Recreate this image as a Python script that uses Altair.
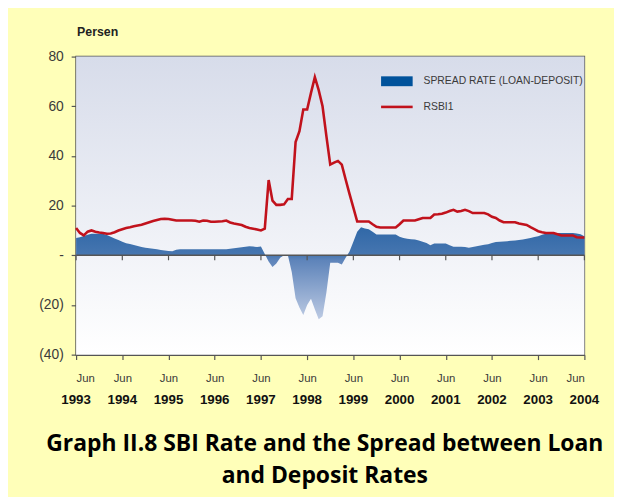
import altair as alt
import pandas as pd

# ---- data (monthly, starting Jun 1993) ----
rsbi = [11, 9, 8, 9.5, 10, 9.5, 9.2, 9, 8.7, 8.8, 9.3, 10,
        10.5, 11, 11.3, 11.7, 12, 12.3, 12.8, 13.3, 13.8, 14.2, 14.6, 14.7,
        14.6, 14.3, 14, 14, 14, 14, 14, 13.9, 13.5, 14, 13.9, 13.5,
        13.5, 13.6, 13.7, 14, 13.2, 12.8, 12.5, 12.2, 11.5, 11, 10.7, 10.4,
        10, 10.7, 30.3, 22, 20.3, 20.3, 20.5, 22.7, 22.7, 45.6, 50, 58.7,
        58.7, 65.4, 71.7, 66.5, 60, 48, 36.5, 37.3, 38, 36.5, 30.5, 24.7,
        19.2, 13.6, 13.6, 13.6, 13.6, 12.5, 11.5, 11.2, 11.2, 11.2, 11.2, 11.2,
        12.5, 14, 14, 14, 14, 14.5, 15, 15, 15, 16.4, 16.5, 16.7,
        17.2, 17.8, 18.3, 17.6, 17.8, 18.3, 17.8, 17, 17, 17, 17, 16.5,
        15.5, 15, 14, 13.3, 13.3, 13.3, 13.3, 12.8, 12.5, 12.2, 11.3, 10.5,
        9.7, 9.3, 9, 9, 9, 8.5, 8, 8, 8, 8, 7.3, 7.2,
        7.2]
spread = [7, 7.3, 7.8, 8.3, 8.7, 8.7, 8.7, 8.7, 8.2, 7.5, 6.8, 6.2,
          5.5, 4.8, 4.5, 4.1, 3.7, 3.3, 3, 2.8, 2.6, 2.4, 2.1, 1.9,
          1.7, 1.6, 2.2, 2.4, 2.4, 2.4, 2.4, 2.4, 2.4, 2.4, 2.4, 2.4,
          2.4, 2.4, 2.4, 2.4, 2.6, 2.8, 3, 3.2, 3.4, 3.6, 3.5, 3.3,
          3.5, 0.5, -2.5, -4.7, -3.3, -1, 0, 0, -6.7, -17.3, -21, -24,
          -20, -17.5, -21.7, -25.7, -24.5, -15, -3, -3, -3, -3.7, -1, 1.5,
          5.5, 9.5, 11.3, 10.8, 10.5, 9.5, 8.4, 8.4, 8.4, 8.4, 8.4, 8.4,
          7.5, 7, 6.7, 6.5, 6.4, 6, 5.5, 5, 4, 4.7, 4.7, 4.7,
          4.7, 4, 3.4, 3.4, 3.4, 3.3, 3, 3.3, 3.6, 3.9, 4.2, 4.4,
          5, 5.4, 5.5, 5.6, 5.7, 5.9, 6, 6.2, 6.4, 6.7, 7, 7.4,
          7.7, 8.3, 8.7, 8.8, 8.9, 9, 9, 9, 9, 9, 8.8, 8.5,
          7.7]
years = [1993, 1994, 1995, 1996, 1997, 1998, 1999, 2000, 2001, 2002, 2003, 2004]
y_ticks = [80, 60, 40, 20, 0, -20, -40]
legend_labels = ["SPREAD RATE (LOAN-DEPOSIT)", "RSBI1"]
title_lines = ["Graph II.8 SBI Rate and the Spread between Loan", "and Deposit Rates"]

month_idx = list(range(len(rsbi)))
df = pd.DataFrame({"m": month_idx, "rsbi": rsbi, "spread": spread})
june_idx = [12 * i for i in range(len(years))]
df_years = pd.DataFrame({"m": june_idx, "year": [str(y) for y in years]})

W, H = 515, 302
AXIS_GRAY = "#555555"
LABEL_GRAY = "#3a3a3a"

xscale = alt.Scale(domain=[0, 132], nice=False, zero=False)
yscale = alt.Scale(domain=[-40, 80], nice=False)

x_enc = alt.X("m:Q", scale=xscale, axis=alt.Axis(
    values=june_idx, labelExpr="'Jun'", title=None, grid=False,
    domainColor=AXIS_GRAY, domainWidth=1.5, tickColor=AXIS_GRAY, tickWidth=1.2,
    tickSize=5, labelFontSize=11.5, labelColor=LABEL_GRAY, labelPadding=13,
    labelFont="Liberation Sans"))

# background gradient
bg = alt.Chart(pd.DataFrame({"a": [0]})).mark_rect(
    color=alt.LinearGradient(gradient="linear", x1=0, y1=0, x2=0, y2=1,
                             stops=[alt.GradientStop(color="#D7DCEA", offset=0),
                                    alt.GradientStop(color="#FFFFFF", offset=1)])
).encode(x=alt.value(0), x2=alt.value(W), y=alt.value(0), y2=alt.value(H))

area = alt.Chart(df).mark_area(
    color=alt.LinearGradient(gradient="linear", x1=0, y1=0, x2=0, y2=1,
                             stops=[alt.GradientStop(color="#3068A7", offset=0),
                                    alt.GradientStop(color="#4676B0", offset=0.3),
                                    alt.GradientStop(color="#5E84BA", offset=0.36),
                                    alt.GradientStop(color="#BCCAE3", offset=1)]),
    interpolate="linear"
).encode(
    x=x_enc,
    y=alt.Y("spread:Q", scale=yscale, axis=alt.Axis(
        values=y_ticks, title=None, grid=False,
        labelExpr="datum.value == 0 ? '-' : (datum.value < 0 ? '(' + abs(datum.value) + ')' : datum.value)",
        domainColor=AXIS_GRAY, domainWidth=1.5, tickColor=AXIS_GRAY, tickWidth=1.2,
        tickSize=5, labelFontSize=14, labelColor=LABEL_GRAY, labelPadding=8,
        labelFont="Liberation Sans")),
    y2=alt.datum(0)
)

zero_line = alt.Chart(pd.DataFrame({"a": [0]})).mark_rule(
    color=AXIS_GRAY, strokeWidth=1.5
).encode(x=alt.value(0), x2=alt.value(W), y=alt.datum(0, scale=yscale))

zero_ticks = alt.Chart(pd.DataFrame({"m": june_idx})).mark_rule(
    color=AXIS_GRAY, strokeWidth=1.2
).encode(x=alt.X("m:Q", scale=xscale), y=alt.datum(0), y2=alt.datum(-2))

line = alt.Chart(df).mark_line(color="#C1121C", strokeWidth=2.6).encode(
    x=alt.X("m:Q", scale=xscale), y=alt.Y("rsbi:Q", scale=yscale)
)

year_text = alt.Chart(df_years).mark_text(
    fontSize=13.5, fontWeight="bold", font="Liberation Sans",
    color="#111111", baseline="middle", align="center"
).encode(x=alt.X("m:Q", scale=xscale), y=alt.value(H + 46), text="year:N")

# legend
leg_rect = alt.Chart(pd.DataFrame({"a": [0]})).mark_rect(color="#00529B").encode(
    x=alt.value(309), x2=alt.value(341), y=alt.value(20), y2=alt.value(30))
leg_line = alt.Chart(pd.DataFrame({"a": [0]})).mark_rule(color="#C1121C", strokeWidth=2.6).encode(
    x=alt.value(309), x2=alt.value(341), y=alt.value(51))
leg_text = alt.Chart(pd.DataFrame({"t": legend_labels, "yy": [25, 51]})).mark_text(
    align="left", baseline="middle", fontSize=10.5, color="#3a3a3a",
    font="Liberation Sans"
).encode(x=alt.value(352), y=alt.Y("yy:Q", scale=None), text="t:N")

persen = alt.Chart(pd.DataFrame({"t": ["Persen"]})).mark_text(
    align="left", baseline="middle", fontSize=12.5, fontWeight="bold",
    color="#222222", font="Liberation Sans"
).encode(x=alt.value(1), y=alt.value(-25), text="t:N")

title_txt = alt.Chart(pd.DataFrame({"t": title_lines, "yy": [H + 91, H + 123]})).mark_text(
    align="center", baseline="middle", fontSize=23.2, fontWeight="bold",
    color="#000000", font="Open Sans"
).encode(x=alt.value(252), y=alt.Y("yy:Q", scale=None), text="t:N")

chart = alt.layer(
    bg, area, zero_line, zero_ticks, line, year_text,
    leg_rect, leg_line, leg_text, persen, title_txt
).properties(
    width=W, height=H,
    autosize=alt.AutoSizeParams(type="none"),
    padding={"left": 69, "top": 46, "right": 30, "bottom": 141},
    background="#FFFFB9"
).configure_view(
    stroke=AXIS_GRAY, strokeWidth=1.5
)

chart.save("out.html", embed_options={"renderer": "svg", "actions": False})
